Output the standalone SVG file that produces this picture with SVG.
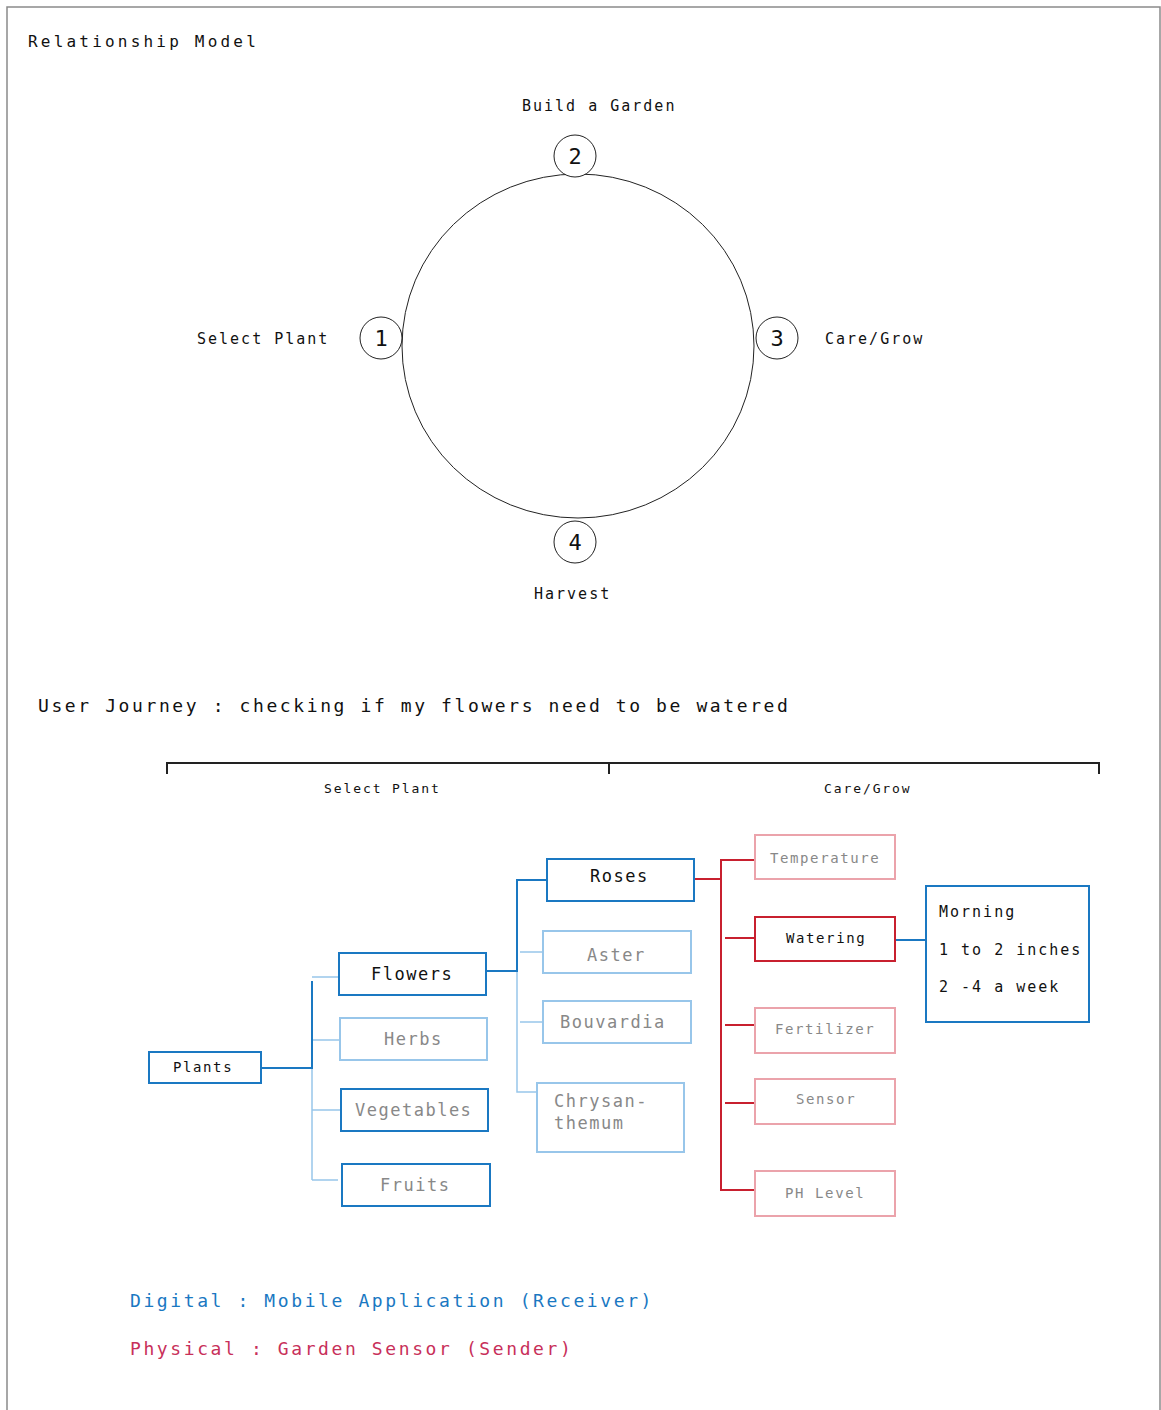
<svg xmlns="http://www.w3.org/2000/svg" width="1161" height="1410" viewBox="0 0 1161 1410">
<style>
text{font-family:"DejaVu Sans Mono","Liberation Mono",monospace;fill:#111}
.t16{font-size:16px;letter-spacing:3.2px}
.t15{font-size:15px;letter-spacing:2px}
.t18{font-size:18px;letter-spacing:2.6px}
.t13{font-size:13px;letter-spacing:1.9px}
.t14{font-size:14px;letter-spacing:1.6px}
.b17{font-size:17px;letter-spacing:1.5px}
.num{font-size:22px;text-anchor:middle}
.gray{fill:#888}
.dk{fill:#111}
.bd{fill:#fff;stroke:#1a78c2;stroke-width:2}
.bl{fill:#fff;stroke:#98c6ea;stroke-width:2}
.rd{fill:#fff;stroke:#c8202f;stroke-width:2}
.rl{fill:#fff;stroke:#eba3ab;stroke-width:2}
.cd{fill:none;stroke:#1a78c2;stroke-width:2}
.cl{fill:none;stroke:#98c6ea;stroke-width:1.5}
.cr{fill:none;stroke:#c8202f;stroke-width:2}
</style>
<rect width="1161" height="1410" fill="#fff"/>
<path d="M7 1410 V7 H1160 V1410" fill="none" stroke="#8a8a8a" stroke-width="1.5"/>
<text class="t16" x="28" y="47">Relationship Model</text>
<g id="cycle">
<ellipse cx="578" cy="346" rx="176" ry="172" fill="none" stroke="#222" stroke-width="1"/>
</g>
<g id="step2"><circle cx="575" cy="156" r="21" fill="#fff" stroke="#222" stroke-width="1"/><text class="num" x="575" y="164">2</text><text class="t15" x="522" y="111">Build a Garden</text></g>
<g id="step1"><circle cx="381" cy="338" r="21" fill="#fff" stroke="#222" stroke-width="1"/><text class="num" x="381" y="346">1</text><text class="t15" x="197" y="344">Select Plant</text></g>
<g id="step3"><circle cx="777" cy="338" r="21" fill="#fff" stroke="#222" stroke-width="1"/><text class="num" x="777" y="346">3</text><text class="t15" x="825" y="344">Care/Grow</text></g>
<g id="step4"><circle cx="575" cy="542" r="21" fill="#fff" stroke="#222" stroke-width="1"/><text class="num" x="575" y="550">4</text><text class="t15" x="534" y="599">Harvest</text></g>

<text class="t18" x="38" y="712">User Journey : checking if my flowers need to be watered</text>
<g id="bracket">
<path d="M167 774 V763 H1099 V774 M609 763 V774" fill="none" stroke="#222" stroke-width="2"/>
<text class="t13" x="324" y="793">Select Plant</text>
<text class="t13" x="824" y="793">Care/Grow</text>
</g>

<g id="connectors">
<path class="cl" d="M312 1068 V1180 M312 1040 H340 M312 1110 H341 M312 1180 H338 M312 977 H338"/>
<path class="cd" d="M261 1068 H312 V981"/>
<path class="cl" d="M517 971 V1092 H537 M520 952 H543 M520 1022 H543"/>
<path class="cd" d="M486 971 H517 V880 H547"/>
<path class="cr" d="M694 879 H721 M755 860 H721 V1190 H755 M725 938 H755 M725 1025 H755 M725 1103 H755"/>
<path class="cd" d="M895 940 H926"/>
</g>

<g id="plants"><rect class="bd" x="149" y="1052" width="112" height="31"/><text class="t14" x="173" y="1072">Plants</text></g>
<g id="flowers"><rect class="bd" x="339" y="953" width="147" height="42"/><text class="b17" x="371" y="980">Flowers</text></g>
<g id="herbs"><rect class="bl" x="340" y="1018" width="147" height="42"/><text class="b17 gray" x="384" y="1045">Herbs</text></g>
<g id="vegetables"><rect class="bd" x="341" y="1089" width="147" height="42"/><text class="b17 gray" x="355" y="1116">Vegetables</text></g>
<g id="fruits"><rect class="bd" x="342" y="1164" width="148" height="42"/><text class="b17 gray" x="380" y="1191">Fruits</text></g>
<g id="roses"><rect class="bd" x="547" y="859" width="147" height="42"/><text class="b17" x="590" y="882">Roses</text></g>
<g id="aster"><rect class="bl" x="543" y="931" width="148" height="42"/><text class="b17 gray" x="587" y="961">Aster</text></g>
<g id="bouvardia"><rect class="bl" x="543" y="1001" width="148" height="42"/><text class="b17 gray" x="560" y="1028">Bouvardia</text></g>
<g id="chrysanthemum"><rect class="bl" x="537" y="1083" width="147" height="69"/><text class="b17 gray" x="554" y="1107">Chrysan-</text><text class="b17 gray" x="554" y="1129">themum</text></g>
<g id="temperature"><rect class="rl" x="755" y="835" width="140" height="44"/><text class="t14 gray" x="770" y="863">Temperature</text></g>
<g id="watering"><rect class="rd" x="755" y="917" width="140" height="44"/><text class="t14" x="786" y="943">Watering</text></g>
<g id="fertilizer"><rect class="rl" x="755" y="1008" width="140" height="45"/><text class="t14 gray" x="775" y="1034">Fertilizer</text></g>
<g id="sensor"><rect class="rl" x="755" y="1079" width="140" height="45"/><text class="t14 gray" x="796" y="1104">Sensor</text></g>
<g id="phlevel"><rect class="rl" x="755" y="1171" width="140" height="45"/><text class="t14 gray" x="785" y="1198">PH Level</text></g>
<g id="info"><rect class="bd" x="926" y="886" width="163" height="136"/>
<text class="t15" x="939" y="917">Morning</text>
<text class="t15" x="939" y="955">1 to 2 inches</text>
<text class="t15" x="939" y="992">2 -4 a week</text></g>

<g id="legend">
<text class="t18" x="130" y="1307" style="fill:#1a78c2">Digital : Mobile Application (Receiver)</text>
<text class="t18" x="130" y="1355" style="fill:#c8305a">Physical : Garden Sensor (Sender)</text>
</g>
</svg>
